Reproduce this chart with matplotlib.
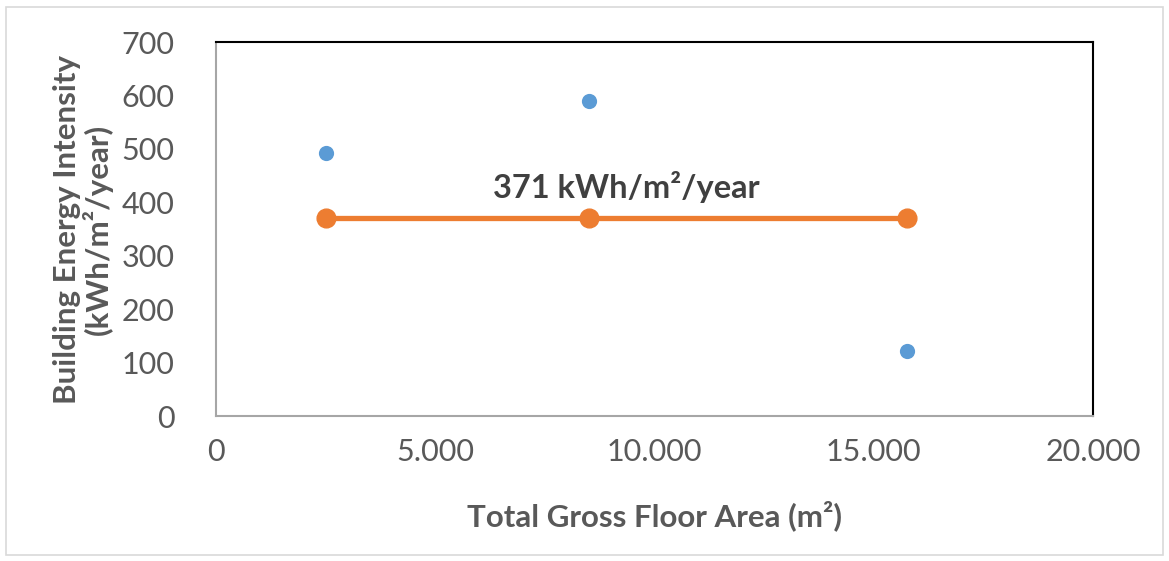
import matplotlib
matplotlib.use("Agg")
import matplotlib.pyplot as plt
from matplotlib.patches import Rectangle
from matplotlib.ticker import FuncFormatter

plt.rcParams["font.family"] = ["Lato", "DejaVu Sans"]

# gross floor area (m2) and energy intensity (kWh/m2/year) of each building
floor_area = [2500, 8500, 15750]
intensity = [492, 590, 123]

# mean intensity drawn as a flat line through the same buildings
mean_intensity = 371
mean_line = [mean_intensity] * len(floor_area)

x_ticks = [0, 5000, 10000, 15000, 20000]
y_ticks = [0, 100, 200, 300, 400, 500, 600, 700]

BLUE = "#5B9BD5"
ORANGE = "#ED7D31"
TEXT = "#595959"

fig = plt.figure(figsize=(11.69, 5.61), dpi=100)
ax = fig.add_axes([0.185, 0.258, 0.75, 0.667])

ax.plot(floor_area, mean_line, color=ORANGE, linewidth=3.8, marker="o",
        markersize=13.5, zorder=2)
ax.scatter(floor_area, intensity, s=120, color=BLUE, zorder=3, linewidths=0)

ax.text(9350, mean_intensity + 28, f"{mean_intensity} kWh/m²/year",
        ha="center", va="bottom", fontsize=23.5, fontweight="bold", color="#404040")

ax.set_xlim(0, 20000)
ax.set_ylim(0, 700)
ax.set_xticks(x_ticks)
ax.set_yticks(y_ticks)
ax.xaxis.set_major_formatter(FuncFormatter(lambda v, _: f"{int(v):,}".replace(",", ".")))
ax.tick_params(length=0, labelsize=22, labelcolor=TEXT, pad=16)
ax.tick_params(axis="y", pad=30)

for side in ("top", "right"):
    ax.spines[side].set_color("black")
    ax.spines[side].set_linewidth(1.5)
for side in ("left", "bottom"):
    ax.spines[side].set_color("#A6A6A6")
    ax.spines[side].set_linewidth(1.5)

ax.set_xlabel("Total Gross Floor Area (m²)", fontsize=22.5, fontweight="bold",
              color=TEXT, labelpad=24)
ax.set_ylabel("Building Energy Intensity\n(kWh/m²/year)", fontsize=22.5,
              fontweight="bold", color=TEXT, labelpad=6, linespacing=1.05)

# light chart-area border
fig.patches.append(Rectangle((0.005, 0.01), 0.99, 0.978, transform=fig.transFigure,
                             fill=False, edgecolor="#D9D9D9", linewidth=1.2))

fig.savefig("out.png", dpi=100)
